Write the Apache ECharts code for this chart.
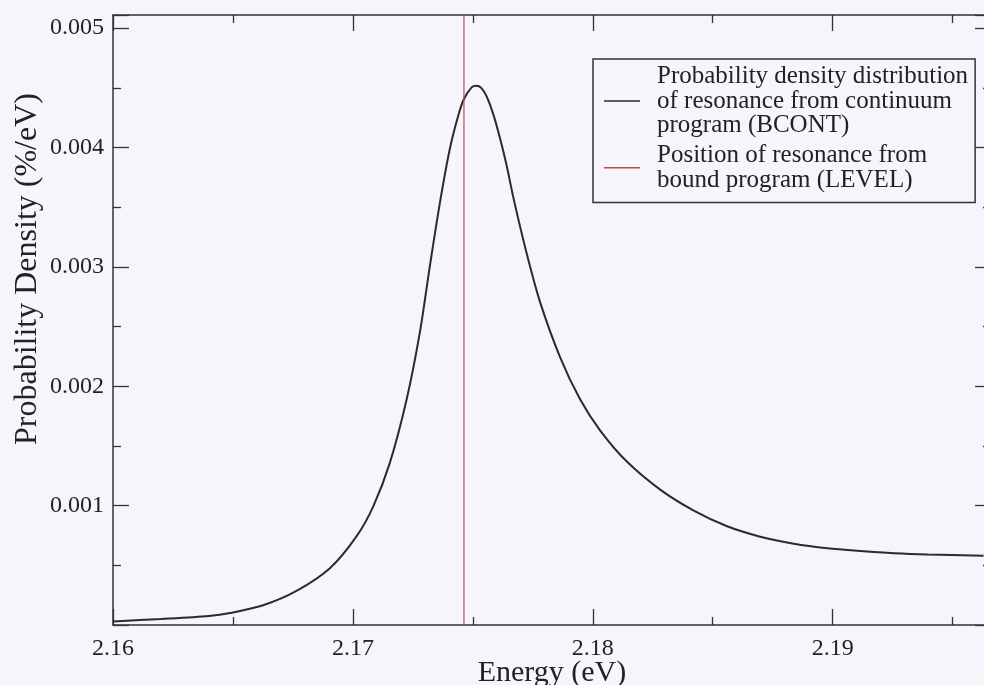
<!DOCTYPE html>
<html>
<head>
<meta charset="utf-8">
<script src="https://cdn.jsdelivr.net/npm/echarts@6/dist/echarts.min.js"></script>
<style>
html,body{margin:0;padding:0;background:#f5f5fb;}
#c{width:984px;height:685px;}
</style>
</head>
<body>
<div id="c"></div>
<script>
// Energy (eV) values of the continuum curve
const energy = [2.1600, 2.1620, 2.1640, 2.16488, 2.16626, 2.16765, 2.16904, 2.17015, 2.17085,
  2.17154, 2.17224, 2.17279, 2.17321, 2.17363, 2.17404, 2.17439, 2.17463, 2.17495, 2.17515,
  2.17535, 2.17557, 2.17585, 2.17613, 2.17641, 2.17669, 2.17724, 2.17780, 2.17864, 2.17947,
  2.18031, 2.18142, 2.18281, 2.18421, 2.18560, 2.18698, 2.18838, 2.18978, 2.19117, 2.19256,
  2.19396, 2.19629];
// Probability density (%/eV)
const density = [0.00003, 0.00005, 0.000075, 0.0001, 0.000165, 0.000285, 0.000475, 0.000742, 0.000994,
  0.001358, 0.001889, 0.002449, 0.003008, 0.00354, 0.003987, 0.004266, 0.004406, 0.004504, 0.004518,
  0.0045, 0.00443, 0.00428, 0.00408, 0.00385, 0.00358, 0.003116, 0.002707, 0.002242, 0.001891,
  0.001629, 0.001369, 0.001134, 0.000958, 0.000827, 0.00074, 0.000681, 0.000643, 0.00062, 0.000602,
  0.000591, 0.00058];
// Position of resonance from bound program
const levelEnergy = 2.17463;
const levelSpan = [0, 0.00511];
const seriesNames = [
  'Probability density distribution\nof resonance from continuum\nprogram (BCONT)',
  'Position of resonance from\nbound program (LEVEL)'
];
const xTitle = 'Energy (eV)';
const yTitle = 'Probability Density (%/eV)';

const curve = energy.map((e, i) => [e, density[i]]);
const level = levelSpan.map(v => [levelEnergy, v]);

const FONT = 'Liberation Serif';
const TXT = '#222';
const AX = '#333';
const CURVE = '#2b2b2b';
const RED = '#c04848';

const chart = echarts.init(document.getElementById('c'));
const xBase = {
  type: 'value', min: 2.16, max: 2.1966, interval: 0.01,
  axisLine: {show: true, onZero: false, lineStyle: {color: AX, width: 1.5}},
  axisTick: {show: true, inside: true, length: 16, lineStyle: {color: AX, width: 1.3}},
  minorTick: {show: true, splitNumber: 2, length: 8, lineStyle: {color: AX, width: 1.3}},
  splitLine: {show: false}, minorSplitLine: {show: false}
};
const yBase = {
  type: 'value', min: 0, max: 0.00511, interval: 0.001,
  axisLine: {show: true, onZero: false, lineStyle: {color: AX, width: 1.5}},
  axisTick: {show: true, inside: true, length: 16, lineStyle: {color: AX, width: 1.3}},
  minorTick: {show: true, splitNumber: 2, length: 8, lineStyle: {color: AX, width: 1.3}},
  splitLine: {show: false}, minorSplitLine: {show: false}
};
chart.setOption({
  backgroundColor: '#f5f5fb',
  animation: false,
  grid: {left: 113, top: 15, right: -7, bottom: 60, containLabel: false, outerBoundsMode: 'none'},
  xAxis: [
    Object.assign({}, xBase, {
      position: 'bottom',
      name: xTitle, nameLocation: 'middle', nameGap: 33, nameMoveOverlap: false,
      nameTextStyle: {fontFamily: FONT, fontSize: 30, color: TXT, verticalAlign: 'top'},
      axisLabel: {show: true, margin: 12, fontFamily: FONT, fontSize: 24, color: TXT,
        showMaxLabel: false, formatter: v => v.toFixed(2)}
    }),
    Object.assign({}, xBase, {position: 'top', axisLabel: {show: false}})
  ],
  yAxis: [
    Object.assign({}, yBase, {
      position: 'left',
      axisLabel: {show: true, margin: 9, fontFamily: FONT, fontSize: 24, color: TXT,
        showMinLabel: false, showMaxLabel: false, formatter: v => v.toFixed(3)}
    }),
    Object.assign({}, yBase, {position: 'right', axisLabel: {show: false}})
  ],
  legend: {
    left: 593, top: 59, orient: 'vertical',
    padding: [5, 7, 10, 11], itemGap: 5,
    itemWidth: 36, itemHeight: 1.6,
    borderColor: '#333', borderWidth: 1.5, borderRadius: 0,
    backgroundColor: '#f5f5fb',
    textStyle: {fontFamily: FONT, fontSize: 25, lineHeight: 24.5, color: TXT, padding: [0, 0, 0, 12]},
    data: [
      {name: seriesNames[0], icon: 'rect', itemStyle: {color: CURVE}},
      {name: seriesNames[1], icon: 'rect', itemStyle: {color: RED}}
    ]
  },
  graphic: [{
    type: 'text', x: 28, y: 269, rotation: Math.PI / 2,
    style: {text: yTitle, fontFamily: FONT, fontSize: 32, fill: TXT, align: 'center', verticalAlign: 'middle'}
  }],
  series: [
    {
      name: seriesNames[0], type: 'line', data: curve, symbol: 'none',
      smooth: 0.3,
      lineStyle: {color: CURVE, width: 2}, itemStyle: {color: CURVE}
    },
    {
      name: seriesNames[1], type: 'line', data: level, symbol: 'none',
      lineStyle: {color: RED, width: 1.2}, itemStyle: {color: RED}
    }
  ]
});
</script>
</body>
</html>
